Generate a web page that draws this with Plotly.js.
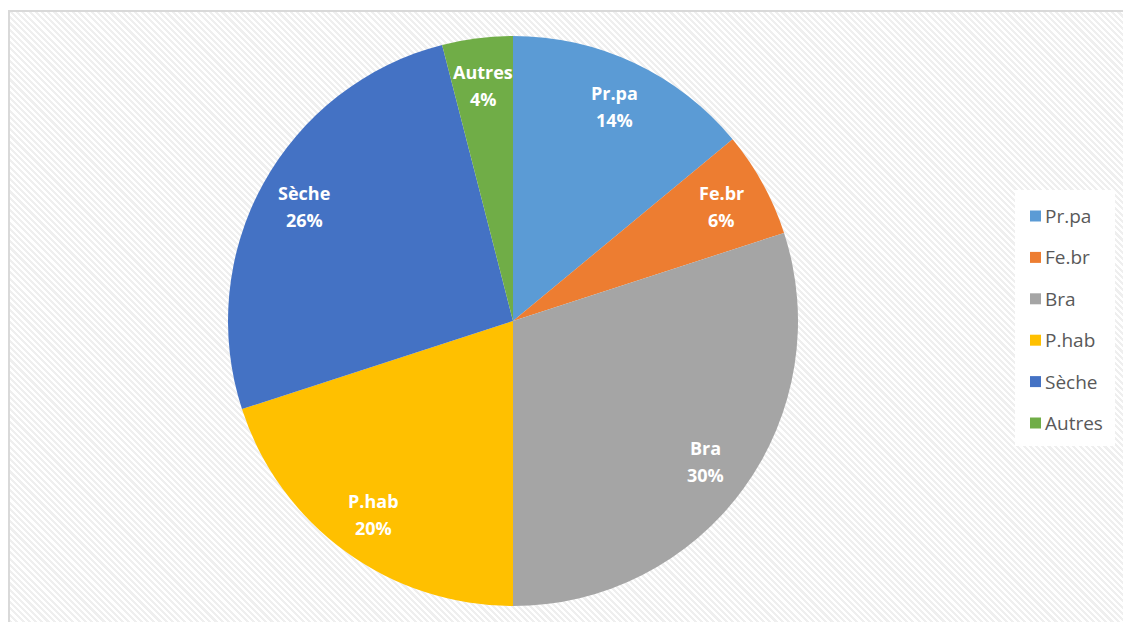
<!DOCTYPE html>
<html>
<head>
<meta charset="utf-8">
<script src="https://cdn.plot.ly/plotly-3.0.1.min.js"></script>
<style>
html,body{margin:0;padding:0;background:#fff;}
#wrap{position:relative;width:1123px;height:622px;overflow:hidden;background:#fff;}
#frame{position:absolute;left:8px;top:10px;width:1130px;height:630px;border:2px solid #d9d9d9;box-sizing:border-box;
background:repeating-linear-gradient(45deg,#ffffff 0px,#ffffff 2.2px,#efefef 2.2px,#efefef 4.4px);}
#chart{position:absolute;left:0;top:0;width:1123px;height:622px;}
</style>
</head>
<body>
<div id="wrap"><div id="frame"></div><div id="chart"></div></div>
<script>
var labels = ["Pr.pa", "Fe.br", "Bra", "P.hab", "Sèche", "Autres"];
var values = [14, 6, 30, 20, 26, 4];
var colors = ["#5B9BD5", "#ED7D31", "#A5A5A5", "#FFC000", "#4472C4", "#70AD47"];

var W = 1123, H = 622;
var CX = 513, CY = 321, R = 285;
var total = values.reduce(function(a,b){return a+b;},0);

var annotations = [];
var shapes = [];
var cum = 0;
var FONT = "'Open Sans', Lato, sans-serif";
values.forEach(function(v,i){
  var mid = (cum + v/2)/total*2*Math.PI;
  cum += v;
  var r = 0.835*R;
  var px = CX + r*Math.sin(mid);
  var py = CY - r*Math.cos(mid);
  var pct = Math.round(v/total*100) + "%";
  annotations.push({xref:"paper",yref:"paper",x:px/W,y:1-py/H,text:"<b>"+labels[i]+"</b>",showarrow:false,
    xanchor:"center",yanchor:"middle",yshift:13,font:{family:FONT,size:18,color:"#ffffff"}});
  annotations.push({xref:"paper",yref:"paper",x:px/W,y:1-py/H,text:"<b>"+pct+"</b>",showarrow:false,
    xanchor:"center",yanchor:"middle",yshift:-14,font:{family:FONT,size:18,color:"#ffffff"}});
});

// legend (custom, built from the arrays)
var LX0 = 1015, LX1 = 1115, LY0 = 190, LY1 = 446;
shapes.push({type:"rect",xref:"paper",yref:"paper",x0:LX0/W,x1:LX1/W,y0:1-LY1/H,y1:1-LY0/H,
  fillcolor:"#ffffff",line:{width:0},layer:"below"});
var step = 41.4, first = 216;
labels.forEach(function(l,i){
  var yc = first + i*step;
  shapes.push({type:"rect",xref:"paper",yref:"paper",x0:1030/W,x1:1041/W,y0:1-(yc+5.5)/H,y1:1-(yc-5.5)/H,
    fillcolor:colors[i],line:{width:0}});
  annotations.push({xref:"paper",yref:"paper",x:1043/W,y:1-yc/H,text:l,showarrow:false,xanchor:"left",yanchor:"middle",
    font:{family:FONT,size:19,color:"#595959"}});
});

var trace = {
  type:"pie",
  labels:labels,
  values:values,
  marker:{colors:colors,line:{width:0}},
  sort:false,
  direction:"clockwise",
  rotation:0,
  textinfo:"none",
  hoverinfo:"label+percent",
  domain:{x:[(CX-R)/W,(CX+R)/W], y:[1-(CY+R)/H, 1-(CY-R)/H]},
  showlegend:false
};

var layout = {
  width:W, height:H,
  margin:{l:0,r:0,t:0,b:0},
  paper_bgcolor:"rgba(0,0,0,0)",
  plot_bgcolor:"rgba(0,0,0,0)",
  showlegend:false,
  annotations:annotations,
  shapes:shapes
};
Plotly.newPlot("chart",[trace],layout,{displayModeBar:false,staticPlot:true});
</script>
</body>
</html>
